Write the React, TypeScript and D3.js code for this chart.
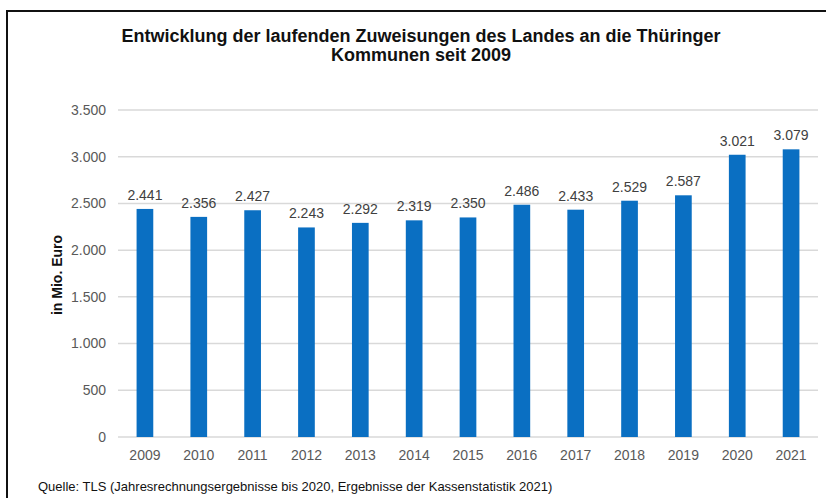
import React from "react";
import * as d3 from "d3";

const years = ["2009","2010","2011","2012","2013","2014","2015","2016","2017","2018","2019","2020","2021"];
const values = [2441, 2356, 2427, 2243, 2292, 2319, 2350, 2486, 2433, 2529, 2587, 3021, 3079];
const yTicks = [0, 500, 1000, 1500, 2000, 2500, 3000, 3500];
const titleLines = ["Entwicklung der laufenden Zuweisungen des Landes an die Thüringer", "Kommunen seit 2009"];
const yAxisTitle = "in Mio. Euro";
const source = "Quelle: TLS (Jahresrechnungsergebnisse bis 2020, Ergebnisse der Kassenstatistik 2021)";

const W = 826, H = 498;
const fmt = (v: number) => d3.format(",")(v).replace(/,/g, ".");

export default function App() {
  const x = d3.scaleBand<string>().domain(years).range([118, 818]).paddingInner(0.69).paddingOuter(0.345);
  const y = d3.scaleLinear().domain([0, 3500]).range([437, 110]);
  const font = "'Liberation Sans', Arial, sans-serif";
  return (
    <svg width={W} height={H} style={{ position: "absolute", left: 0, top: 0, background: "#fff" }} fontFamily={font}>
      <rect x={0} y={0} width={W} height={H} fill="#fff" />
      <rect x={7} y={11} width={W + 20} height={H + 20} fill="none" stroke="#111" strokeWidth={2} />
      {titleLines.map((t, i) => (
        <text key={i} x={421} y={42 + i * 19} textAnchor="middle" fontSize={18} fontWeight="bold" fill="#111">{t}</text>
      ))}
      {yTicks.map((t) => (
        <g key={t}>
          <line x1={118} x2={818} y1={y(t)} y2={y(t)} stroke="#d9d9d9" strokeWidth={1.5} />
          <text x={106} y={y(t)} dy="0.35em" textAnchor="end" fontSize={14} fill="#595959">{fmt(t)}</text>
        </g>
      ))}
      {years.map((yr, i) => (
        <g key={yr}>
          <rect x={x(yr)!} y={y(values[i])} width={x.bandwidth()} height={y(0) - y(values[i])} fill="#0a6fc2" />
          <text x={x(yr)! + x.bandwidth() / 2} y={y(values[i]) - 9} textAnchor="middle" fontSize={14} fill="#404040">{fmt(values[i])}</text>
          <text x={x(yr)! + x.bandwidth() / 2} y={460} textAnchor="middle" fontSize={14} fill="#595959">{yr}</text>
        </g>
      ))}
      <text transform="translate(62,275) rotate(-90)" textAnchor="middle" fontSize={14} fontWeight="bold" fill="#111">{yAxisTitle}</text>
      <text x={38} y={491} fontSize={13} fill="#111">{source}</text>
    </svg>
  );
}
